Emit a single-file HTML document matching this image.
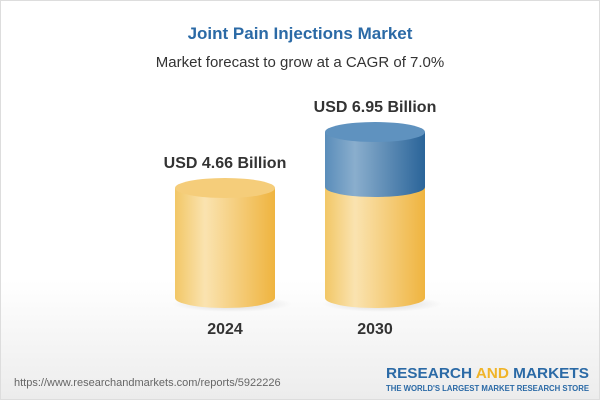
<!DOCTYPE html>
<html><head><style>
body{margin:0;width:600px;height:400px;overflow:hidden;font-family:"Liberation Sans",Arial,sans-serif}
</style></head><body>
<svg width="600" height="400" xmlns="http://www.w3.org/2000/svg">
<defs>
<linearGradient id="bg" x1="0" y1="0" x2="0" y2="1">
<stop offset="0" stop-color="#fff"/><stop offset="0.7" stop-color="#fff"/><stop offset="1" stop-color="#ececec"/></linearGradient>
<linearGradient id="y" x1="0" y1="0" x2="1" y2="0">
<stop offset="0" stop-color="#f2c766"/><stop offset="0.3" stop-color="#fae3b0"/><stop offset="1" stop-color="#efb43f"/></linearGradient>
<linearGradient id="b" x1="0" y1="0" x2="1" y2="0">
<stop offset="0" stop-color="#5a8dba"/><stop offset="0.3" stop-color="#8aaecd"/><stop offset="1" stop-color="#2a6499"/></linearGradient>
<radialGradient id="sh"><stop offset="0" stop-color="#000" stop-opacity="0.15"/><stop offset="1" stop-color="#000" stop-opacity="0"/></radialGradient>
</defs>
<rect width="600" height="400" fill="url(#bg)"/>
<rect x="0.5" y="0.5" width="599" height="399" fill="none" stroke="#ddd"/>
<text x="300" y="39" text-anchor="middle" font-size="17" font-weight="bold" fill="#2b6aa6">Joint Pain Injections Market</text>
<text x="300" y="67" text-anchor="middle" font-size="15" fill="#333">Market forecast to grow at a CAGR of 7.0%</text>
<ellipse cx="232" cy="304" rx="60" ry="8" fill="url(#sh)"/>
<ellipse cx="382" cy="304" rx="60" ry="8" fill="url(#sh)"/>
<path d="M175 188 V298 A50 10 0 0 0 275 298 V188 Z" fill="url(#y)"/>
<ellipse cx="225" cy="188" rx="50" ry="10" fill="#f5cd7a"/>
<path d="M325 187 V298 A50 10 0 0 0 425 298 V187 Z" fill="url(#y)"/>
<path d="M325 132 V187 A50 10 0 0 0 425 187 V132 Z" fill="url(#b)"/>
<ellipse cx="375" cy="132" rx="50" ry="10" fill="#5f92bf"/>
<text x="225" y="168" text-anchor="middle" font-size="16" font-weight="bold" fill="#333">USD 4.66 Billion</text>
<text x="375" y="112" text-anchor="middle" font-size="16" font-weight="bold" fill="#333">USD 6.95 Billion</text>
<text x="225" y="334" text-anchor="middle" font-size="16" font-weight="bold" fill="#333">2024</text>
<text x="375" y="334" text-anchor="middle" font-size="16" font-weight="bold" fill="#333">2030</text>
<text x="14" y="386" font-size="11" fill="#666">https://www.researchandmarkets.com/reports/5922226</text>
<text x="386" y="378" font-size="15" font-weight="bold" fill="#2b6aa6" textLength="203" lengthAdjust="spacingAndGlyphs">RESEARCH <tspan fill="#f0b429">AND</tspan> MARKETS</text>
<text x="386" y="391" font-size="8" font-weight="bold" fill="#2b6aa6" textLength="203" lengthAdjust="spacingAndGlyphs">THE WORLD'S LARGEST MARKET RESEARCH STORE</text>
</svg>
</body></html>
